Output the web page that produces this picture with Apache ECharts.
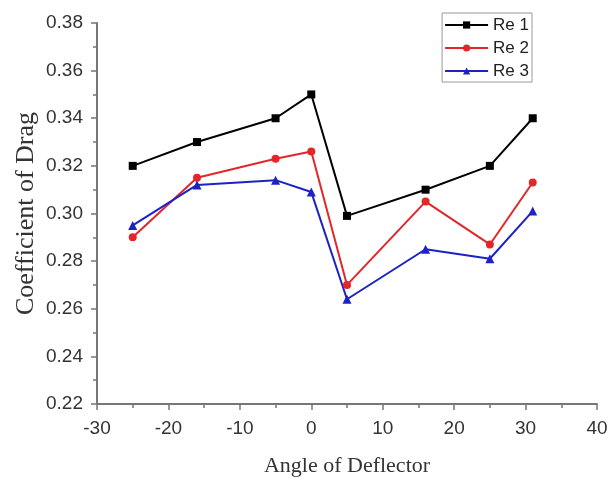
<!DOCTYPE html>
<html><head><meta charset="utf-8">
<script src="https://cdn.jsdelivr.net/npm/echarts@6/dist/echarts.min.js"></script>
<style>html,body{margin:0;padding:0;background:#fff}#c{width:609px;height:479px}</style>
</head><body><div id="c"></div>
<script>
const angles = [-25, -16, -5, 0, 5, 16, 25, 31];
const re1 = [0.320, 0.330, 0.340, 0.350, 0.299, 0.310, 0.320, 0.340];
const re2 = [0.290, 0.315, 0.323, 0.326, 0.270, 0.305, 0.287, 0.313];
const re3 = [0.295, 0.312, 0.314, 0.309, 0.264, 0.285, 0.281, 0.301];
const names = ['Re 1', 'Re 2', 'Re 3'];

const pair = arr => angles.map((a, i) => [a, arr[i]]);
const chart = echarts.init(document.getElementById('c'));
const axisCol = '#777';
chart.setOption({
  animation: false,
  backgroundColor: '#fff',
  grid: {left: 97, right: 12, top: 23, bottom: 75, containLabel: false, outerBoundsMode: 'none'},
  legend: {
    right: 77, top: 13, orient: 'vertical', itemGap: 5,
    itemWidth: 43, itemHeight: 9,
    borderColor: '#999', borderWidth: 1, padding: [3, 3, 2, 2],
    textStyle: {fontFamily: 'Liberation Sans', fontSize: 17, lineHeight: 18, color: '#222'},
    data: names
  },
  xAxis: {
    type: 'value', min: -30, max: 40, interval: 10,
    name: 'Angle of Deflector', nameLocation: 'middle', nameGap: 51, nameMoveOverlap: false,
    nameTextStyle: {fontFamily: 'Liberation Serif', fontSize: 22, color: '#333'},
    axisLine: {onZero: false, lineStyle: {color: axisCol, width: 2}},
    axisTick: {show: true, length: 6, lineStyle: {color: axisCol, width: 1.5}},
    minorTick: {show: true, splitNumber: 2, length: 4, lineStyle: {color: axisCol, width: 1.5}},
    axisLabel: {fontFamily: 'Liberation Sans', fontSize: 19, color: '#333', margin: 15},
    splitLine: {show: false}
  },
  yAxis: {
    type: 'value', min: 0.22, max: 0.38, interval: 0.02,
    name: 'Coefficient of Drag', nameLocation: 'middle', nameGap: 58, nameMoveOverlap: false,
    nameTextStyle: {fontFamily: 'Liberation Serif', fontSize: 26, color: '#333'},
    axisLine: {show: true, onZero: false, lineStyle: {color: axisCol, width: 2}},
    axisTick: {show: true, length: 6, lineStyle: {color: axisCol, width: 1.5}},
    minorTick: {show: true, splitNumber: 2, length: 4, lineStyle: {color: axisCol, width: 1.5}},
    axisLabel: {fontFamily: 'Liberation Sans', fontSize: 19, color: '#333', margin: 14,
      formatter: v => v.toFixed(2)},
    splitLine: {show: false}
  },
  series: [
    {name: names[0], type: 'line', data: pair(re1), symbol: 'rect', symbolSize: 8,
     itemStyle: {color: '#000'}, lineStyle: {color: '#000', width: 2}},
    {name: names[1], type: 'line', data: pair(re2), symbol: 'circle', symbolSize: 8,
     itemStyle: {color: '#e3262a'}, lineStyle: {color: '#e3262a', width: 2}},
    {name: names[2], type: 'line', data: pair(re3), symbol: 'triangle', symbolSize: 9,
     itemStyle: {color: '#1c22c4'}, lineStyle: {color: '#1c22c4', width: 2}}
  ]
});
</script></body></html>
